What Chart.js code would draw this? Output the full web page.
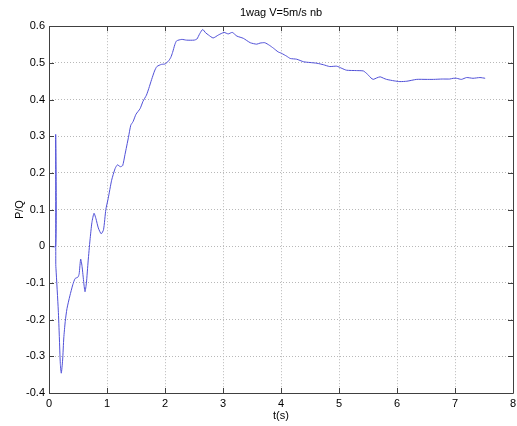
<!DOCTYPE html>
<html>
<head>
<meta charset="utf-8">
<script src="https://cdn.jsdelivr.net/npm/chart.js@4/dist/chart.umd.min.js"></script>
<style>
  body { margin: 0; background: #fff; }
  canvas { display: block; }
</style>
</head>
<body>
<canvas id="c" width="517" height="426"></canvas>
<script>
// P/Q ratio over time
var timeValues = [0, 0.115, 0.1151, 0.117, 0.12, 0.16, 0.178, 0.195, 0.212, 0.235, 0.255, 0.28, 0.31, 0.36, 0.41, 0.45, 0.5, 0.52,
  0.546, 0.57, 0.6, 0.621, 0.645, 0.675, 0.707, 0.74, 0.776, 0.81, 0.85, 0.9, 0.94, 0.98, 1.02, 1.08, 1.14, 1.18, 1.23, 1.27,
  1.31, 1.37, 1.41, 1.45, 1.5, 1.57, 1.62, 1.68, 1.72, 1.77, 1.82, 1.86, 1.94, 2.0, 2.06, 2.1, 2.13, 2.17, 2.2, 2.29, 2.37,
  2.5, 2.55, 2.6, 2.65, 2.7, 2.75, 2.83, 2.92, 2.97, 3.02, 3.09, 3.16, 3.24, 3.35, 3.47, 3.58, 3.64, 3.72, 3.8, 3.87, 3.95,
  4.01, 4.1, 4.16, 4.27, 4.39, 4.5, 4.62, 4.73, 4.84, 4.96, 5.05, 5.13, 5.3, 5.42, 5.47, 5.51, 5.55, 5.59, 5.65, 5.71, 5.77,
  5.82, 5.95, 6.05, 6.17, 6.34, 6.5, 6.63, 6.78, 6.91, 6.97, 7.03, 7.11, 7.2, 7.31, 7.43, 7.52];
var ratioValues = [0, 0, 0.305, -0.05, -0.06, -0.174, -0.246, -0.32, -0.346, -0.31, -0.25, -0.205, -0.17, -0.135, -0.105, -0.088, -0.084, -0.075,
  -0.035, -0.055, -0.1, -0.124, -0.1, -0.04, 0.017, 0.065, 0.09, 0.075, 0.05, 0.034, 0.045, 0.1, 0.13, 0.18, 0.212, 0.222, 0.217, 0.22,
  0.25, 0.297, 0.33, 0.34, 0.36, 0.375, 0.395, 0.412, 0.43, 0.455, 0.478, 0.49, 0.496, 0.497, 0.505, 0.515, 0.528, 0.55, 0.56, 0.564, 0.562,
  0.562, 0.565, 0.58, 0.591, 0.582, 0.576, 0.568, 0.576, 0.58, 0.583, 0.579, 0.583, 0.573, 0.567, 0.555, 0.551, 0.554, 0.555, 0.548, 0.54, 0.53,
  0.526, 0.518, 0.512, 0.51, 0.503, 0.501, 0.499, 0.495, 0.49, 0.491, 0.485, 0.48, 0.479, 0.478, 0.472, 0.466, 0.459, 0.455, 0.459, 0.462, 0.458,
  0.455, 0.451, 0.449, 0.45, 0.455, 0.455, 0.455, 0.456, 0.456, 0.458, 0.458, 0.455, 0.46, 0.458, 0.46, 0.458];

var xTicks = [0, 1, 2, 3, 4, 5, 6, 7, 8];
var yTicks = [-0.4, -0.3, -0.2, -0.1, 0, 0.1, 0.2, 0.3, 0.4, 0.5, 0.6];

var pts = [];
for (var i = 0; i < timeValues.length; i++) pts.push({x: timeValues[i], y: ratioValues[i]});

var FONT = 'Arial, "Liberation Sans", sans-serif';

// matlab style box with inward ticks
var boxPlugin = {
  id: 'box',
  afterDraw: function(chart) {
    var ctx = chart.ctx, a = chart.chartArea;
    var sx = chart.scales.x, sy = chart.scales.y;
    ctx.save();
    ctx.strokeStyle = '#404040';
    ctx.lineWidth = 1;
    ctx.beginPath();
    ctx.rect(Math.round(a.left) + 0.5, Math.round(a.top) + 0.5, Math.round(a.right - a.left), Math.round(a.bottom - a.top));
    xTicks.forEach(function(v) {
      var px = Math.round(sx.getPixelForValue(v)) + 0.5;
      ctx.moveTo(px, a.bottom); ctx.lineTo(px, a.bottom - 5);
      ctx.moveTo(px, a.top); ctx.lineTo(px, a.top + 5);
    });
    yTicks.forEach(function(v) {
      var py = Math.round(sy.getPixelForValue(v)) + 0.5;
      ctx.moveTo(a.left, py); ctx.lineTo(a.left + 5, py);
      ctx.moveTo(a.right, py); ctx.lineTo(a.right - 5, py);
    });
    ctx.stroke();
    ctx.restore();
  }
};

new Chart(document.getElementById('c'), {
  type: 'scatter',
  data: {
    datasets: [{
      data: pts,
      showLine: true,
      borderColor: 'rgb(80,80,215)',
      borderWidth: 1,
      pointRadius: 0,
      tension: 0.2
    }]
  },
  options: {
    responsive: false,
    animation: false,
    layout: { padding: { left: 0, right: 4, top: 0, bottom: 0 } },
    plugins: {
      legend: { display: false },
      tooltip: { enabled: false },
      title: {
        display: true,
        text: '1wag V=5m/s nb',
        fullSize: false,
        color: '#000',
        font: { family: FONT, size: 11, weight: 'normal' },
        padding: { top: 6, bottom: 7 }
      }
    },
    scales: {
      x: {
        type: 'linear',
        min: 0, max: 8,
        afterFit: function(s) { s.height = 33; s.paddingRight = 0; s.paddingLeft = 0; },
        ticks: { stepSize: 1, color: '#000', font: { family: FONT, size: 11 }, padding: 4, maxRotation: 0 },
        grid: { color: '#b8b8b8', drawTicks: false },
        border: { display: false, dash: [1, 2] },
        title: { display: true, text: 't(s)', color: '#000', font: { family: FONT, size: 11 }, padding: { top: 0, bottom: 3 } }
      },
      y: {
        min: -0.4, max: 0.6,
        afterFit: function(s) { s.width = 49; },
        ticks: {
          stepSize: 0.1, color: '#000', font: { family: FONT, size: 11 }, padding: 4,
          callback: function(v) { return String(Number(v.toFixed(1))); }
        },
        grid: { color: '#b8b8b8', drawTicks: false },
        border: { display: false, dash: [1, 2] },
        title: { display: true, text: 'P/Q', color: '#000', font: { family: FONT, size: 11 }, padding: { top: 13, bottom: 0 } }
      }
    }
  },
  plugins: [boxPlugin]
});
</script>
</body>
</html>
